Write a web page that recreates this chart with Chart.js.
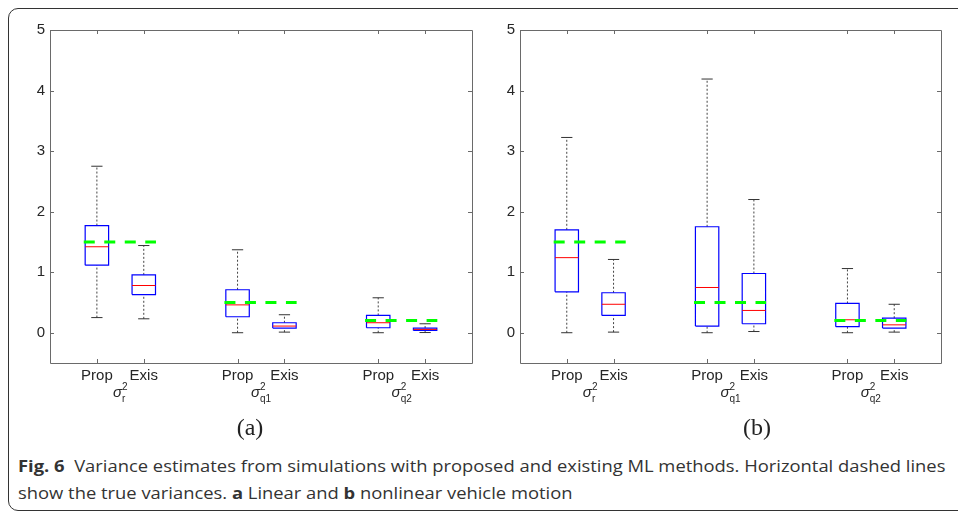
<!DOCTYPE html>
<html>
<head>
<meta charset="utf-8">
<script src="https://cdn.jsdelivr.net/npm/chart.js@4.4.1/dist/chart.umd.min.js"></script>
<style>
  body { margin: 0; width: 958px; height: 511px; background: #fff; position: relative; overflow: hidden; }
  .frame { position: absolute; left: 8px; top: 8px; width: 1000px; height: 501px; border: 1px solid #333; border-radius: 10px; }
  .panel { position: absolute; top: 0; width: 480px; height: 420px; }
  #wrap-a { left: 0; }
  #wrap-b { left: 470px; }
  .sub { position: absolute; top: 414px; font-family: "Liberation Serif", serif; font-size: 24px; color: #222; transform: translateX(-50%); }
  .cap { position: absolute; left: 18px; font-family: "Open Sans", "Noto Sans", sans-serif; font-size: 15.5px; color: #333; white-space: nowrap; transform-origin: 0 0; }
  .cap b { font-weight: 700; }
</style>
</head>
<body>
<div class="frame"></div>
<div class="panel" id="wrap-a"><canvas id="chart-a"></canvas></div>
<div class="panel" id="wrap-b"><canvas id="chart-b"></canvas></div>
<div class="sub" style="left:250px">(a)</div>
<div class="sub" style="left:757px">(b)</div>
<div class="cap" id="cap1" style="top:455px"><b>Fig. 6</b>&nbsp; Variance estimates from simulations with proposed and existing ML methods. Horizontal dashed lines</div>
<div class="cap" id="cap2" style="top:482px">show the true variances. <b>a</b> Linear and <b>b</b> nonlinear vehicle motion</div>
<script>
const methods = ['Prop', 'Exis'];
const params = ['r', 'q1', 'q2'];
const positions = [1, 2, 4, 5, 7, 8];
const yTicks = [0, 1, 2, 3, 4, 5];
const trueVar = [1.5, 0.5, 0.2];

// (a) linear motion: whisker low, q1, median, q3, whisker high
const aLow  = [0.25, 0.23, 0.00, 0.01, 0.00, 0.003];
const aQ1   = [1.115, 0.63, 0.264, 0.077, 0.082, 0.038];
const aMed  = [1.42, 0.78, 0.46, 0.11, 0.165, 0.055];
const aQ3   = [1.77, 0.956, 0.71, 0.165, 0.286, 0.077];
const aHigh = [2.75, 1.44, 1.37, 0.297, 0.577, 0.148];

// (b) nonlinear motion
const bLow  = [0.00, 0.01, 0.00, 0.02, 0.00, 0.01];
const bQ1   = [0.676, 0.286, 0.11, 0.148, 0.10, 0.077];
const bMed  = [1.24, 0.47, 0.747, 0.368, 0.214, 0.13];
const bQ3   = [1.70, 0.66, 1.75, 0.978, 0.484, 0.24];
const bHigh = [3.225, 1.21, 4.19, 2.20, 1.06, 0.47];

const BOX_HALF = 0.25, CAP_HALF = 0.12;
const TICK_FONT = { family: '"Liberation Sans", Arial, sans-serif', size: 15 };
const GAP = { x: NaN, y: null };

function boxDatasets(low, q1, med, q3, high) {
  const whisk = [], caps = [], boxes = [], meds = [];
  positions.forEach((p, i) => {
    whisk.push({ x: p, y: q3[i] }, { x: p, y: high[i] }, GAP, { x: p, y: low[i] }, { x: p, y: q1[i] }, GAP);
    caps.push({ x: p - CAP_HALF, y: high[i] }, { x: p + CAP_HALF, y: high[i] }, GAP,
              { x: p - CAP_HALF, y: low[i] }, { x: p + CAP_HALF, y: low[i] }, GAP);
    boxes.push({ x: p - BOX_HALF, y: q1[i] }, { x: p + BOX_HALF, y: q1[i] }, { x: p + BOX_HALF, y: q3[i] },
               { x: p - BOX_HALF, y: q3[i] }, { x: p - BOX_HALF, y: q1[i] }, GAP);
    meds.push({ x: p - BOX_HALF, y: med[i] }, { x: p + BOX_HALF, y: med[i] }, GAP);
  });
  const line = { showLine: true, pointRadius: 0, pointHoverRadius: 0, spanGaps: false, fill: false };
  const sets = [
    { ...line, label: 'whiskers', data: whisk, borderColor: '#444', borderWidth: 1, borderDash: [2, 2], order: 4 },
    { ...line, label: 'caps', data: caps, borderColor: '#333', borderWidth: 1, order: 3 },
    { ...line, label: 'boxes', data: boxes, borderColor: '#0000ff', borderWidth: 1.2, order: 2 },
    { ...line, label: 'medians', data: meds, borderColor: '#ff0000', borderWidth: 1, order: 1 },
  ];
  trueVar.forEach((v, g) => {
    const p = positions[g * 2];
    sets.push({ ...line, label: 'true ' + params[g], data: [{ x: p - 0.28, y: v }, { x: p + 1.26, y: v }],
      borderColor: '#00ff00', borderWidth: 3, borderDash: [11, 9.5], borderCapStyle: 'butt', order: 0 });
  });
  return sets;
}

const axisFrame = {
  id: 'axisFrame',
  afterDatasetsDraw(chart) {
    const { ctx, chartArea: a, scales: { x, y } } = chart;
    ctx.save();
    ctx.strokeStyle = '#6a6a6a';
    ctx.lineWidth = 1;
    ctx.beginPath();
    ctx.rect(Math.round(a.left) + 0.5, Math.round(a.top) + 0.5, Math.round(a.width), Math.round(a.height));
    x.ticks.forEach(t => {
      const px = Math.round(x.getPixelForValue(t.value)) + 0.5;
      ctx.moveTo(px, a.bottom); ctx.lineTo(px, a.bottom - 4);
      ctx.moveTo(px, a.top); ctx.lineTo(px, a.top + 4);
    });
    y.ticks.forEach(t => {
      const py = Math.round(y.getPixelForValue(t.value)) + 0.5;
      ctx.moveTo(a.left, py); ctx.lineTo(a.left + 4, py);
      ctx.moveTo(a.right, py); ctx.lineTo(a.right - 4, py);
    });
    ctx.stroke();

    // sigma^2 group labels under each Prop/Exis pair
    ctx.fillStyle = '#262626';
    params.forEach((s, g) => {
      const cx = x.getPixelForValue((positions[g * 2] + positions[g * 2 + 1]) / 2);
      ctx.font = 'italic 15px "Liberation Sans", Arial, sans-serif';
      const wSig = ctx.measureText('σ').width;
      ctx.font = '10px "Liberation Sans", Arial, sans-serif';
      const wSub = Math.max(ctx.measureText(s).width, ctx.measureText('2').width);
      const left = cx - (wSig + wSub) / 2;
      ctx.textBaseline = 'alphabetic';
      ctx.font = 'italic 15px "Liberation Sans", Arial, sans-serif';
      ctx.fillText('σ', left, 397);
      ctx.font = '10px "Liberation Sans", Arial, sans-serif';
      ctx.fillText('2', left + wSig, 389.5);
      ctx.fillText(s, left + wSig, 402);
    });
    ctx.restore();
  }
};

function mount(id, low, q1, med, q3, high, padRight) {
  return new Chart(document.getElementById(id), {
    type: 'scatter',
    data: { datasets: boxDatasets(low, q1, med, q3, high) },
    options: {
      responsive: true,
      maintainAspectRatio: false,
      animation: false,
      layout: { padding: { top: 30, right: padRight, bottom: 0, left: 0 } },
      plugins: { legend: { display: false }, tooltip: { enabled: false } },
      scales: {
        x: {
          type: 'linear', min: 0, max: 9,
          afterBuildTicks: s => { s.ticks = positions.map(v => ({ value: v })); },
          afterFit: s => { s.height = 57; },
          ticks: { callback: v => methods[positions.indexOf(v) % 2], color: '#262626', font: TICK_FONT, padding: 4, maxRotation: 0, autoSkip: false },
          grid: { display: false, drawTicks: false },
          border: { display: false },
        },
        y: {
          type: 'linear', min: -0.5, max: 5,
          afterBuildTicks: s => { s.ticks = yTicks.map(v => ({ value: v })); },
          afterFit: s => { s.width = 50; },
          ticks: { color: '#262626', font: TICK_FONT, padding: 5 },
          grid: { display: false, drawTicks: false },
          border: { display: false },
        },
      },
    },
    plugins: [axisFrame],
  });
}

mount('chart-a', aLow, aQ1, aMed, aQ3, aHigh, 8);
mount('chart-b', bLow, bQ1, bMed, bQ3, bHigh, 9);

// squeeze caption lines to the width of the condensed journal font
const k = 927 / document.getElementById('cap1').scrollWidth;
['cap1', 'cap2'].forEach(id => { document.getElementById(id).style.transform = `scaleX(${k})`; });
</script>
</body>
</html>
